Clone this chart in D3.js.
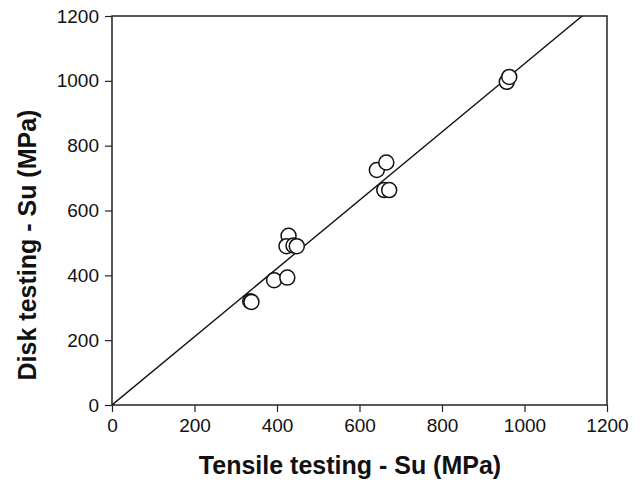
<!DOCTYPE html>
<html><head><meta charset="utf-8">
<script src="https://cdn.jsdelivr.net/npm/d3@7"></script>
<style>body{margin:0;background:#fff;} text{font-family:"Liberation Sans",Arial,sans-serif;}</style>
</head><body><svg id="c" width="644" height="480"></svg>
<script>
const tensile = [335, 338, 393, 425, 428, 423, 440, 448, 642, 665, 660, 672, 957, 963];
const disk    = [320, 318, 385, 393, 522, 490, 492, 490, 725, 748, 663, 663, 997, 1012];
const xTicks = [0, 200, 400, 600, 800, 1000, 1200];
const yTicks = [0, 200, 400, 600, 800, 1000, 1200];
const fitSlope = [1.053];
const xTitle = "Tensile testing - Su (MPa)";
const yTitle = "Disk testing - Su (MPa)";

const svg = d3.select("#c");
const m = {l:112, r:607, t:16, b:405};
const x = d3.scaleLinear().domain([0,1200]).range([m.l, m.r]);
const y = d3.scaleLinear().domain([0,1200]).range([m.b, m.t]);

svg.append("clipPath").attr("id","clp").append("rect")
  .attr("x", m.l).attr("y", m.t).attr("width", m.r-m.l).attr("height", m.b-m.t);

const font = "Liberation Sans, Arial, sans-serif";
svg.append("g").attr("transform",`translate(0,${m.b})`)
  .call(d3.axisBottom(x).tickValues(xTicks).tickFormat(d3.format("d")).tickSizeInner(7).tickSizeOuter(0).tickPadding(7))
  .call(g=>g.select(".domain").remove())
  .call(g=>g.selectAll("line").attr("stroke","#222").attr("stroke-width",1.2))
  .call(g=>g.selectAll("text").attr("font-size",19).attr("fill","#111").style("font-family",font));
svg.append("g").attr("transform",`translate(${m.l},0)`)
  .call(d3.axisLeft(y).tickValues(yTicks).tickFormat(d3.format("d")).tickSizeInner(7).tickSizeOuter(0).tickPadding(6))
  .call(g=>g.select(".domain").remove())
  .call(g=>g.selectAll("line").attr("stroke","#222").attr("stroke-width",1.2))
  .call(g=>g.selectAll("text").attr("font-size",19).attr("fill","#111").style("font-family",font));

svg.append("rect").attr("x",m.l).attr("y",m.t).attr("width",m.r-m.l).attr("height",m.b-m.t)
  .attr("fill","none").attr("stroke","#222").attr("stroke-width",1.5);

const lineX = [0, 1200];
svg.append("path").attr("clip-path","url(#clp)")
  .attr("d", d3.line().x(d=>x(d)).y(d=>y(d*fitSlope[0]))(lineX))
  .attr("stroke","#111").attr("stroke-width",1.4).attr("fill","none");

svg.append("g").selectAll("circle").data(tensile.map((t,i)=>[t,disk[i]])).join("circle")
  .attr("cx",d=>x(d[0])).attr("cy",d=>y(d[1])).attr("r",7.5)
  .attr("fill","#fff").attr("stroke","#111").attr("stroke-width",1.5);

svg.append("text").attr("x",350).attr("y",474).attr("text-anchor","middle")
  .attr("font-size",25).attr("font-weight","bold").attr("fill","#111").text(xTitle);
svg.append("text").attr("transform",`translate(36,245) rotate(-90)`).attr("text-anchor","middle")
  .attr("font-size",25).attr("font-weight","bold").attr("fill","#111").text(yTitle);
</script></body></html>
